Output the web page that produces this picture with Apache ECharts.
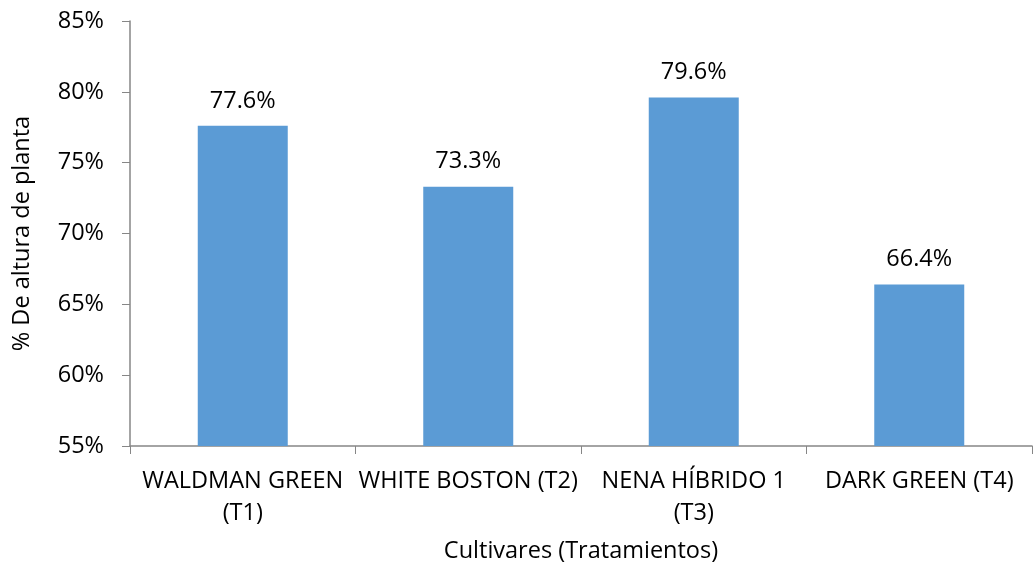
<!DOCTYPE html>
<html>
<head>
<meta charset="utf-8">
<script src="https://cdn.jsdelivr.net/npm/echarts@6/dist/echarts.min.js"></script>
<style>
	html, body { margin: 0; padding: 0; background: #fff; }
	#chart { width: 1033px; height: 566px; }
</style>
</head>
<body>
<div id="chart"></div>
<script>
	// datos
	var cultivares = ['WALDMAN GREEN\n(T1)', 'WHITE BOSTON (T2)', 'NENA HÍBRIDO 1\n(T3)', 'DARK GREEN (T4)']
	var alturas = [77.6, 73.3, 79.6, 66.4]
	var yTicks = [55, 60, 65, 70, 75, 80, 85]

	var font = '"Open Sans", sans-serif'
	var fs = 23.5
	var axisGray = '#868686'

	var myChart = echarts.init(document.getElementById('chart'))

	var option = {
		animation: false,
		grid: {
			left: 130,
			right: 1,
			top: 21,
			bottom: 120,
			outerBoundsMode: 'none'
		},
		xAxis: {
			type: 'category',
			data: cultivares,
			name: 'Cultivares (Tratamientos)',
			nameLocation: 'middle',
			nameGap: 93,
			nameTextStyle: { fontFamily: font, fontSize: fs, color: '#000' },
			axisLine: { lineStyle: { color: axisGray, width: 1.5 } },
			axisTick: { show: true, length: 8, lineStyle: { color: axisGray } },
			axisLabel: {
				fontFamily: font,
				fontSize: fs,
				color: '#000',
				margin: 19,
				lineHeight: 32,
				interval: 0
			}
		},
		yAxis: {
			type: 'value',
			min: yTicks[0],
			max: yTicks[yTicks.length - 1],
			interval: 5,
			name: '% De altura de planta',
			nameLocation: 'middle',
			nameGap: 96,
			nameRotate: 90,
			nameTextStyle: { fontFamily: font, fontSize: fs, color: '#000' },
			axisLine: { show: true, lineStyle: { color: axisGray, width: 1.5 } },
			axisTick: { show: true, length: 8, lineStyle: { color: axisGray } },
			splitLine: { show: false },
			axisLabel: {
				fontFamily: font,
				fontSize: fs,
				color: '#000',
				margin: 26,
				formatter: '{value}%'
			}
		},
		series: [{
			type: 'bar',
			data: alturas,
			barWidth: 90,
			itemStyle: { color: '#5B9BD5' },
			label: {
				show: true,
				position: 'top',
				distance: 13,
				fontFamily: font,
				fontSize: fs,
				color: '#000',
				formatter: function (p) { return p.value.toFixed(1) + '%' }
			}
		}]
	}

	myChart.setOption(option)
</script>
</body>
</html>
